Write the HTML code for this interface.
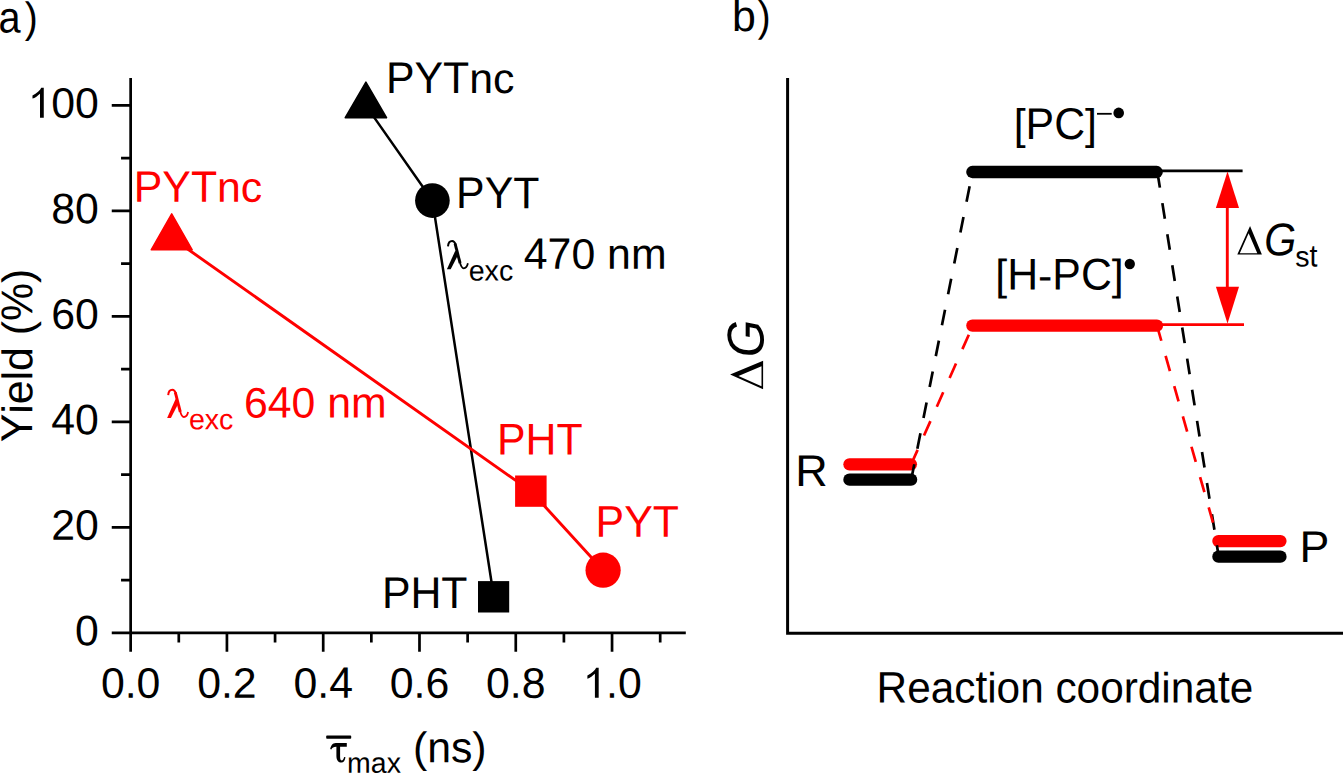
<!DOCTYPE html>
<html><head><meta charset="utf-8"><style>
html,body{margin:0;padding:0;background:#fff;overflow:hidden;}
svg{display:block;}
text{font-family:"Liberation Sans",sans-serif;font-size:42.8px;text-rendering:geometricPrecision;}
</style></head><body>
<svg width="1343" height="774" viewBox="0 0 1343 774">
<rect width="1343" height="774" fill="#fff"/>
<text transform="translate(-1.39,32.5) rotate(0.05) scale(0.927,1.03)">a</text>
<text transform="translate(24.65,32.2) rotate(0.05) scale(0.91,1)">)</text>
<text transform="translate(732.1,31.0) rotate(0.05) scale(1,1.02)">b</text>
<text transform="translate(757.65,31.0) rotate(0.05) scale(0.9,1)">)</text>
<path d="M130.65,77.9 V651.8 M111.75,632.9 H685.8 M111.75,527.41 H130.65 M111.75,421.92 H130.65 M111.75,316.43 H130.65 M111.75,210.94 H130.65 M111.75,105.45 H130.65 M121.05,580.155 H130.65 M121.05,474.665 H130.65 M121.05,369.175 H130.65 M121.05,263.685 H130.65 M121.05,158.195 H130.65 M226.93,632.9 V651.8 M323.21,632.9 V651.8 M419.49,632.9 V651.8 M515.77,632.9 V651.8 M612.05,632.9 V651.8 M178.79,632.9 V642.5 M275.07,632.9 V642.5 M371.35,632.9 V642.5 M467.63,632.9 V642.5 M563.91,632.9 V642.5 M660.19,632.9 V642.5 " stroke="#000" stroke-width="2.7" fill="none"/>
<text transform="translate(75,645.2) rotate(0.05) scale(1,1)" xml:space="preserve">0</text>
<text transform="translate(51.19,539.71) rotate(0.05) scale(1,1)" xml:space="preserve">20</text>
<text transform="translate(51.19,434.22) rotate(0.05) scale(1,1.025)" xml:space="preserve">4</text>
<text transform="translate(75,434.22) rotate(0.05) scale(1,1)" xml:space="preserve">0</text>
<text transform="translate(51.19,328.73) rotate(0.05) scale(1,1)" xml:space="preserve">60</text>
<text transform="translate(51.19,223.24) rotate(0.05) scale(1,1)" xml:space="preserve">80</text>
<path d="M43.77,117.75 H40.0 V93.78 Q38.64,95.07 36.44,96.63 T32.48,98.62 V95.41 Q35.65,93.91 38.05,91.81 T41.26,87.79 H43.77 Z" fill="#000"/>
<text transform="translate(51.19,117.75) rotate(0.05) scale(1,1)" xml:space="preserve">00</text>
<text transform="translate(100.9,697.8) rotate(0.05) scale(1,1)" xml:space="preserve">0.0</text>
<text transform="translate(197.18,697.8) rotate(0.05) scale(1,1)" xml:space="preserve">0.2</text>
<text transform="translate(293.46,697.8) rotate(0.05) scale(1,1)" xml:space="preserve">0.</text>
<text transform="translate(329.16,697.8) rotate(0.05) scale(1,1.025)" xml:space="preserve">4</text>
<text transform="translate(389.74,697.8) rotate(0.05) scale(1,1)" xml:space="preserve">0.6</text>
<text transform="translate(486.02,697.8) rotate(0.05) scale(1,1)" xml:space="preserve">0.8</text>
<path d="M598.68,697.8 H594.91 V673.83 Q593.55,675.12 591.35,676.68 T587.39,678.67 V675.46 Q590.56,673.96 592.96,671.86 T596.17,667.84 H598.68 Z" fill="#000"/>
<text transform="translate(606.1,697.8) rotate(0.05) scale(1,1)" xml:space="preserve">.0</text>
<g transform="translate(32.2,355.5) rotate(-89.95)">
<text transform="translate(-86.81,0) rotate(0.05) scale(1,1.04)" xml:space="preserve">Y</text>
<text transform="translate(-58.26,0) rotate(0.05) scale(1,1)" xml:space="preserve">i</text>
<text transform="translate(-48.76,0) rotate(0.05) scale(1,1.01)" xml:space="preserve">e</text>
<text transform="translate(-24.95,0) rotate(0.05) scale(1,1)" xml:space="preserve">ld (</text>
<text transform="translate(34.5,0) rotate(0.05) scale(1,1.04)" xml:space="preserve">%</text>
<text transform="translate(72.56,0) rotate(0.05) scale(1,1)" xml:space="preserve">)</text>
</g>
<rect x="326.2" y="735.6" width="25" height="3.2" rx="0.8" fill="#000"/>
<path d="M330.2,749 C330.9,746 332.4,743.1 335.8,743.1 L346.8,743.1 L346.8,746.8 L336.2,746.8 C333.6,746.8 332.2,747.6 331.3,749.4 Z" fill="#000"/>
<path d="M336.4,745.5 L336.4,756 C336.4,760.5 338.6,762.6 341.4,762.6 C343.6,762.6 344.9,760.6 345.5,757.3 L344.1,756.9 C343.6,758.9 342.8,760.4 341.6,760.4 C340.5,760.4 340.1,759.2 340.1,756.3 L340.1,745.5 Z" fill="#000"/>
<text style="font-size:28.5px;" transform="translate(347.1,772.8) rotate(0.05) scale(1,1.01)" xml:space="preserve">max</text>
<text transform="translate(412.9,762.2) rotate(0.05) scale(1,1)" xml:space="preserve">(</text>
<text transform="translate(427.15,762.2) rotate(0.05) scale(1,1.01)" xml:space="preserve">ns</text>
<text transform="translate(472.36,762.2) rotate(0.05) scale(1,1)" xml:space="preserve">)</text>
<polyline points="365.9,105.6 432.4,200.55 493.8,596.8" fill="none" stroke="#000" stroke-width="2.5"/>
<polyline points="171.7,237.8 530.85,491.15 603.1,570.2" fill="none" stroke="#ff0000" stroke-width="2.9"/>
<polygon points="365.9,82.05 386.55,117.75 345.25,117.75" fill="#000" stroke="#000" stroke-width="1.5" stroke-linejoin="round"/>
<circle cx="432.4" cy="200.55" r="17.33" fill="#000"/>
<rect x="478.0" y="581.1" width="31.2" height="31.4" fill="#000"/>
<polygon points="171.7,213.85 192.2,249.75 151.2,249.75" fill="#ff0000" stroke="#ff0000" stroke-width="1.5" stroke-linejoin="round"/>
<rect x="515.1" y="475.5" width="31.5" height="31.3" fill="#ff0000"/>
<circle cx="603.1" cy="570.2" r="17.6" fill="#ff0000"/>
<text transform="translate(385.9,93) rotate(0.05) scale(1,1.04)" xml:space="preserve">PYT</text>
<text transform="translate(469.14,93) rotate(0.05) scale(1,0.99)" xml:space="preserve">nc</text>
<text transform="translate(456.1,208.1) rotate(0.05) scale(1,1.04)" xml:space="preserve">PYT</text>
<text transform="translate(381.9,608) rotate(0.05) scale(1,1.04)" xml:space="preserve">PHT</text>
<text fill="#ff0000" transform="translate(133.8,201.65) rotate(0.05) scale(1,1.025)" xml:space="preserve">PYT</text>
<text fill="#ff0000" transform="translate(217.04,201.65) rotate(0.05) scale(1,0.99)" xml:space="preserve">nc</text>
<text fill="#ff0000" transform="translate(497,454.4) rotate(0.05) scale(1,1.04)" xml:space="preserve">PHT</text>
<text fill="#ff0000" transform="translate(595.6,536.7) rotate(0.05) scale(1,1.04)" xml:space="preserve">PYT</text>
<g transform="translate(0,0)" fill="none" stroke="#000">
<path d="M448.0,246.4 C448.3,242.8 450.0,241.0 452.1,241.0 C453.9,241.0 454.9,242.2 455.6,244.8" stroke-width="2.0"/>
<path d="M455.1,243.6 L460.1,263.2" stroke-width="2.9"/>
<path d="M459.8,262.0 C460.9,266.2 461.9,268.3 463.7,268.3 C465.6,268.3 467.2,266.4 467.9,263.3" stroke-width="1.8"/>
<polygon points="455.4,250.4 457.9,255.2 450.7,269.2 446.9,269.2" fill="#000" stroke="none"/>
</g>
<text style="font-size:28.6px;" transform="translate(468.7,280.5) rotate(0.05) scale(1,1.01)" xml:space="preserve">exc</text>
<text transform="translate(523.8,268.8) rotate(0.05) scale(1,1.025)" xml:space="preserve">47</text>
<text transform="translate(571.41,268.8) rotate(0.05) scale(1,1)" xml:space="preserve">0 </text>
<text transform="translate(607.1,268.8) rotate(0.05) scale(1,1.01)" xml:space="preserve">nm</text>
<g transform="translate(-279.8,148.7)" fill="none" stroke="#ff0000">
<path d="M448.0,246.4 C448.3,242.8 450.0,241.0 452.1,241.0 C453.9,241.0 454.9,242.2 455.6,244.8" stroke-width="2.0"/>
<path d="M455.1,243.6 L460.1,263.2" stroke-width="2.9"/>
<path d="M459.8,262.0 C460.9,266.2 461.9,268.3 463.7,268.3 C465.6,268.3 467.2,266.4 467.9,263.3" stroke-width="1.8"/>
<polygon points="455.4,250.4 457.9,255.2 450.7,269.2 446.9,269.2" fill="#ff0000" stroke="none"/>
</g>
<text fill="#ff0000" style="font-size:28.6px;" transform="translate(188.9,429.2) rotate(0.05) scale(1,1.01)" xml:space="preserve">exc</text>
<text fill="#ff0000" transform="translate(243.9,417.5) rotate(0.05) scale(1,1)" xml:space="preserve">6</text>
<text fill="#ff0000" transform="translate(267.7,417.5) rotate(0.05) scale(1,1.025)" xml:space="preserve">4</text>
<text fill="#ff0000" transform="translate(291.51,417.5) rotate(0.05) scale(1,1)" xml:space="preserve">0 </text>
<text fill="#ff0000" transform="translate(327.2,417.5) rotate(0.05) scale(1,1.01)" xml:space="preserve">nm</text>
<path d="M787.6,78 V633.2 H1343" stroke="#000" stroke-width="3" fill="none"/>
<g transform="translate(763.1,389.2) rotate(-89.95)">
<path d="M14.69,-33 L28.34,0 L0,0 Z M13.08,-24.65 L23.04,-1.61 L2.88,-1.61 Z" fill="#000" fill-rule="evenodd"/>
<text transform="translate(31.9,0.3) rotate(0.05) scale(0.969,1.05)" style="font-size:49.5px;font-style:italic">G</text>
</g>
<text style="font-size:42.34px;" transform="translate(876.6,702.4) rotate(0.05) scale(1,1.04)" xml:space="preserve">R</text>
<text style="font-size:42.34px;" transform="translate(907.18,702.4) rotate(0.05) scale(1,1.03)" xml:space="preserve">eac</text>
<text style="font-size:42.34px;" transform="translate(975.44,702.4) rotate(0.05) scale(1,1.1)" xml:space="preserve">t</text>
<text style="font-size:42.34px;" transform="translate(987.2,702.4) rotate(0.05) scale(1,1)" xml:space="preserve">i</text>
<text style="font-size:42.34px;" transform="translate(996.61,702.4) rotate(0.05) scale(1,1.03)" xml:space="preserve">on coor</text>
<text style="font-size:42.34px;" transform="translate(1137.83,702.4) rotate(0.05) scale(1,1)" xml:space="preserve">di</text>
<text style="font-size:42.34px;" transform="translate(1170.79,702.4) rotate(0.05) scale(1,1.03)" xml:space="preserve">na</text>
<text style="font-size:42.34px;" transform="translate(1217.88,702.4) rotate(0.05) scale(1,1.1)" xml:space="preserve">t</text>
<text style="font-size:42.34px;" transform="translate(1229.65,702.4) rotate(0.05) scale(1,1.03)" xml:space="preserve">e</text>
<path d="M1157,170.8 H1242.6" stroke="#000" stroke-width="2.8"/>
<path d="M1157,324.6 H1244" stroke="#ff0000" stroke-width="2.8"/>
<g stroke-width="12.3" stroke-linecap="round" fill="none">
<path d="M849.45,479.7 H911.1" stroke="#000"/>
<path d="M849.45,464.3 H910.9" stroke="#ff0000"/>
<path d="M972.35,172 H1156.65" stroke="#000"/>
<path d="M972.35,325.55 H1156.95" stroke="#ff0000"/>
<path d="M1218.4,556.65 H1280.45" stroke="#000"/>
<path d="M1218.4,541.1 H1280.45" stroke="#ff0000"/>
</g>
<g fill="none" stroke-width="2.7" stroke-dasharray="15.8 15.7">
<path d="M911.2,479.7 L972.45,172" stroke="#000"/>
<path d="M911.2,464.3 L972.9,325.55" stroke="#ff0000"/>
<path d="M1157.4,172 L1218.7,556.65" stroke="#000"/>
<path d="M1157,325.55 L1218.3,541.1" stroke="#ff0000"/>
</g>
<path d="M1227.3,205 V290" stroke="#ff0000" stroke-width="2.9"/>
<polygon points="1227.5,171.6 1239,207.9 1215.9,207.9" fill="#ff0000"/>
<polygon points="1227.5,323.4 1239,286.8 1215.9,286.8" fill="#ff0000"/>
<text transform="translate(795.2,486) rotate(0.05) scale(1.05,1.04)">R</text>
<text transform="translate(1299.6,562) rotate(0.05) scale(1.045,1.04)">P</text>
<text transform="translate(1013.7,138.9) rotate(0.05) scale(1,1)" xml:space="preserve">[</text>
<text transform="translate(1025.59,138.9) rotate(0.05) scale(1,1.04)" xml:space="preserve">PC</text>
<text transform="translate(1085.05,138.9) rotate(0.05) scale(1,1)" xml:space="preserve">]</text>
<rect x="1097" y="112.9" width="14.7" height="1.8" fill="#000"/>
<circle cx="1118.7" cy="112.9" r="5.3" fill="#000"/>
<text transform="translate(995.3,289.4) rotate(0.05) scale(1,1)" xml:space="preserve">[</text>
<text transform="translate(1007.19,289.4) rotate(0.05) scale(1,1.04)" xml:space="preserve">H</text>
<text transform="translate(1038.1,290.3) rotate(0.05) scale(1,1)" xml:space="preserve">-</text>
<text transform="translate(1052.35,289.4) rotate(0.05) scale(1,1.04)" xml:space="preserve">PC</text>
<text transform="translate(1111.81,289.4) rotate(0.05) scale(1,1)" xml:space="preserve">]</text>
<circle cx="1129.8" cy="264" r="5.15" fill="#000"/>
<path d="M1250.05,225.95 L1261.9,254.6 L1237.3,254.6 Z M1248.65,233.2 L1257.3,253.2 L1239.8,253.2 Z" fill="#000" fill-rule="evenodd"/>
<text transform="translate(1264.3,255.25) rotate(0.05) scale(0.959,1.073)" style="font-style:italic">G</text>
<text style="font-size:28.6px;" transform="translate(1295.2,266.6) rotate(0.05) scale(1,1.01)" xml:space="preserve">s</text>
<text style="font-size:28.6px;" transform="translate(1309.5,266.6) rotate(0.05) scale(1,1.1)" xml:space="preserve">t</text>
</svg>
</body></html>
